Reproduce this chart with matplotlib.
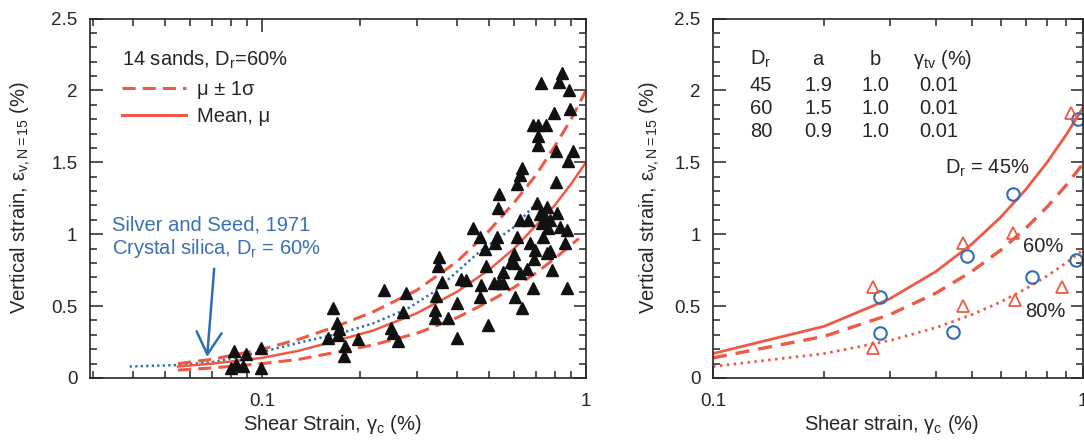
import numpy as np
import matplotlib
matplotlib.use('Agg')
import matplotlib.pyplot as plt
from matplotlib.ticker import FixedLocator, FixedFormatter, LogLocator, NullFormatter, MultipleLocator, FuncFormatter
from matplotlib.lines import Line2D

plt.rcParams['font.family'] = ['Liberation Sans', 'DejaVu Sans']
plt.rcParams['mathtext.fontset'] = 'custom'
plt.rcParams['mathtext.rm'] = 'Liberation Sans'
plt.rcParams['mathtext.it'] = 'Liberation Sans:italic'
plt.rcParams['mathtext.default'] = 'regular'

RED = '#ee5a45'
BLUE = '#2f6db5'
TXTBLUE = '#3b70b5'
INK = '#262626'
FS = 14.5
TFS = 13.5

# ---------------- Left panel data ----------------
tri_x = [0.080, 0.082, 0.083, 0.087, 0.089, 0.099, 0.099,
         0.166, 0.170, 0.173, 0.160, 0.171, 0.180, 0.179, 0.198,
         0.238, 0.278, 0.272, 0.250, 0.253, 0.262,
         0.352, 0.350, 0.358, 0.345, 0.342, 0.342, 0.375, 0.400, 0.400, 0.412, 0.425,
         0.448, 0.471, 0.488, 0.492, 0.475, 0.470, 0.498,
         0.539, 0.535, 0.532, 0.525, 0.520, 0.537, 0.554, 0.554, 0.585, 0.600, 0.600, 0.604, 0.635,
         0.612, 0.626, 0.635, 0.626, 0.612, 0.626, 0.660, 0.658, 0.672, 0.696, 0.686, 0.686,
         0.711, 0.711, 0.711, 0.726, 0.706, 0.720, 0.690,
         0.732, 0.747, 0.758, 0.774, 0.758, 0.785, 0.753, 0.797, 0.737, 0.763, 0.774,
         0.843, 0.825, 0.886, 0.893, 0.808, 0.912, 0.880, 0.808, 0.814, 0.831, 0.874, 0.861, 0.874]
tri_y = [0.07, 0.19, 0.10, 0.08, 0.17, 0.21, 0.07,
         0.49, 0.38, 0.34, 0.28, 0.30, 0.22, 0.15, 0.27,
         0.61, 0.59, 0.46, 0.35, 0.31, 0.26,
         0.84, 0.78, 0.67, 0.57, 0.47, 0.42, 0.42, 0.52, 0.28, 0.69, 0.68,
         1.04, 0.98, 0.90, 0.78, 0.65, 0.56, 0.37,
         1.28, 1.18, 0.98, 0.94, 0.66, 0.66, 0.66, 0.74, 0.81, 0.86, 0.80, 0.56, 0.49,
         0.98, 0.73, 1.46, 1.41, 1.35, 1.10, 1.10, 0.76, 0.94, 0.89, 0.625, 1.76,
         1.76, 1.68, 1.62, 2.05, 1.22, 1.14, 0.83,
         1.08, 1.12, 1.19, 1.10, 0.87, 0.75, 1.76, 1.84, 0.98, 1.04, 0.88,
         2.12, 2.06, 2.00, 1.87, 1.58, 1.58, 1.51, 1.36, 1.15, 1.05, 1.03, 0.94, 0.625]

band_x = [0.055, 0.07, 0.1, 0.13, 0.17, 0.22, 0.3, 0.4, 0.5, 0.6, 0.7, 0.8, 0.9, 1.0]
upper_y = [0.10, 0.13, 0.20, 0.27, 0.36, 0.46, 0.61, 0.81, 1.02, 1.22, 1.41, 1.61, 1.80, 2.00]
mean_y = [0.08, 0.10, 0.14, 0.19, 0.26, 0.33, 0.45, 0.60, 0.75, 0.90, 1.06, 1.20, 1.35, 1.50]
lower_x = [0.055, 0.07, 0.1, 0.13, 0.17, 0.22, 0.3, 0.4, 0.5, 0.6, 0.7, 0.8, 0.95]
lower_y = [0.055, 0.07, 0.10, 0.13, 0.18, 0.23, 0.31, 0.42, 0.53, 0.63, 0.73, 0.83, 0.97]

seed_x = [0.039, 0.055, 0.07, 0.086, 0.108, 0.138, 0.174, 0.22, 0.28, 0.34, 0.40, 0.47, 0.60, 0.706]
seed_y = [0.08, 0.09, 0.11, 0.15, 0.20, 0.26, 0.31, 0.38, 0.48, 0.60, 0.74, 0.88, 1.05, 1.22]

# ---------------- Right panel data ----------------
gamma = [0.1, 0.2, 0.3, 0.4, 0.5, 0.6, 0.7, 0.8, 0.9, 1.0]
eps45 = [0.17, 0.36, 0.55, 0.74, 0.93, 1.12, 1.31, 1.50, 1.69, 1.88]
eps60 = [0.14, 0.29, 0.44, 0.59, 0.74, 0.89, 1.04, 1.19, 1.34, 1.49]
eps80 = [0.08, 0.17, 0.26, 0.35, 0.44, 0.53, 0.62, 0.71, 0.80, 0.89]

circ_x = [0.283, 0.283, 0.446, 0.486, 0.647, 0.728, 0.957, 0.970]
circ_y = [0.56, 0.31, 0.32, 0.85, 1.28, 0.70, 0.82, 1.80]
rtri_x = [0.270, 0.270, 0.474, 0.474, 0.647, 0.654, 0.877, 0.930]
rtri_y = [0.63, 0.21, 0.94, 0.50, 1.01, 0.54, 0.63, 1.84]

table_header = ['D$_{r}$', 'a', 'b', '\u03b3$_{tv}$ (%)']
table_rows = [['45', '1.9', '1.0', '0.01'],
              ['60', '1.5', '1.0', '0.01'],
              ['80', '0.9', '1.0', '0.01']]

xtick_vals = [0.1, 1]
xtick_labels = ['0.1', '1']

W, H = 1084, 441
fig = plt.figure(figsize=(W / 100, H / 100), dpi=100)


def px_axes(x0, x1, ytop, ybot):
    return fig.add_axes([x0 / W, (H - ybot) / H, (x1 - x0) / W, (ybot - ytop) / H])


def style_axes(ax):
    ax.set_xscale('log')
    ax.xaxis.set_major_locator(FixedLocator(xtick_vals))
    ax.xaxis.set_major_formatter(FixedFormatter(xtick_labels))
    ax.xaxis.set_minor_locator(LogLocator(base=10, subs=np.arange(2, 10)))
    ax.xaxis.set_minor_formatter(NullFormatter())
    ax.set_ylim(0, 2.5)
    ax.yaxis.set_major_locator(MultipleLocator(0.5))
    ax.yaxis.set_minor_locator(MultipleLocator(0.1))
    ax.yaxis.set_major_formatter(FuncFormatter(lambda v, p: f'{v:g}'))
    ax.tick_params(which='both', direction='in', top=True, right=True,
                   color=INK, labelcolor=INK, labelsize=TFS, width=1.1)
    ax.tick_params(which='major', length=9)
    ax.tick_params(which='minor', length=5)
    ax.tick_params(axis='x', which='both', pad=11)
    ax.tick_params(axis='y', which='both', pad=9)
    for s in ax.spines.values():
        s.set_linewidth(1.2)
        s.set_color(INK)


# ---------------- Left panel ----------------
axL = px_axes(90, 586, 18.5, 378)
style_axes(axL)
axL.set_xlim(0.0294, 1.0)

axL.plot(seed_x, seed_y, color=BLUE, lw=1.8, dashes=(0.9, 1.3))
axL.plot(band_x, upper_y, color=RED, lw=2.2, dashes=(4.3, 2.3))
axL.plot(lower_x, lower_y, color=RED, lw=2.2, dashes=(4.3, 2.3))
axL.plot(band_x, mean_y, color=RED, lw=1.8)
axL.plot(tri_x, tri_y, ls='none', marker='^', ms=8, color='#111111', mec='#111111')

h_dash = Line2D([], [], color=RED, lw=2.2, dashes=(4.3, 2.3))
h_solid = Line2D([], [], color=RED, lw=2.2)
leg = axL.legend([h_dash, h_solid], ['\u03bc \u00b1 1\u03c3', 'Mean, \u03bc'],
                 title='14 sands, D$_{r}$=60%', loc='upper left',
                 bbox_to_anchor=(0.064, 0.915), frameon=False, fontsize=FS,
                 title_fontsize=FS, handlelength=3.2, handletextpad=0.55,
                 labelspacing=0.42, borderpad=0, borderaxespad=0, alignment='left')
for t in leg.get_texts():
    t.set_color(INK)
leg.get_title().set_color(INK)

axL.text(0.0444, 0.410, 'Silver and Seed, 1971', transform=axL.transAxes,
         color=TXTBLUE, fontsize=FS, va='baseline', ha='left')
axL.text(0.0444, 0.345, 'Crystal silica, D$_{r}$ = 60%', transform=axL.transAxes,
         color=TXTBLUE, fontsize=FS, va='baseline', ha='left')
axL.annotate('', xy=(0.0676, 0.146), xytext=(0.0711, 0.76),
             arrowprops=dict(arrowstyle='->,head_length=0.8,head_width=0.45',
                             color=BLUE, lw=1.8, mutation_scale=20, shrinkA=0, shrinkB=0))

axL.set_xlabel('Shear Strain, \u03b3$_{c}$ (%)', fontsize=FS, color=INK)
axL.set_ylabel('Vertical strain, \u03b5$_{v,N=15}$ (%)', fontsize=FS, color=INK)
axL.xaxis.label.set_va('center')
axL.xaxis.set_label_coords((332 - 90) / 496, (378 - 425) / 359.5)
axL.yaxis.label.set_va('center')
axL.yaxis.set_label_coords((21 - 90) / 496, 0.5)

# ---------------- Right panel ----------------
axR = px_axes(713, 1083, 18.5, 378)
style_axes(axR)
axR.set_xlim(0.1, 1.0)

axR.plot(gamma, eps80, color=RED, lw=2.0, dashes=(0.9, 1.6))
axR.plot(gamma, eps60, color=RED, lw=2.4, dashes=(4.2, 2.7))
axR.plot(gamma, eps45, color=RED, lw=2.0)
axR.plot(circ_x, circ_y, ls='none', marker='o', ms=9, mfc='none', mec=BLUE, mew=1.5)
axR.plot(rtri_x, rtri_y, ls='none', marker='^', ms=9, mfc='none', mec=RED, mew=1.3)

col_x = [0.100, 0.284, 0.438, 0.611]
col_ha = ['left', 'center', 'center', 'center']
axR.text(0.100, 0.871, table_header[0], transform=axR.transAxes, fontsize=FS,
         color=INK, va='baseline', ha='left')
axR.text(0.284, 0.871, table_header[1], transform=axR.transAxes, fontsize=FS,
         color=INK, va='baseline', ha='center')
axR.text(0.440, 0.871, table_header[2], transform=axR.transAxes, fontsize=FS,
         color=INK, va='baseline', ha='center')
axR.text(0.541, 0.871, table_header[3], transform=axR.transAxes, fontsize=FS,
         color=INK, va='baseline', ha='left')
row_y = [0.798, 0.734, 0.670]
for ry, row in zip(row_y, table_rows):
    for cx, ha, val in zip(col_x, col_ha, row):
        axR.text(cx, ry, val, transform=axR.transAxes, fontsize=FS, color=INK,
                 va='baseline', ha=ha)

axR.text(0.627, 0.569, 'D$_{r}$ = 45%', transform=axR.transAxes, fontsize=FS,
         color=INK, va='baseline', ha='left')
axR.text(0.838, 0.351, '60%', transform=axR.transAxes, fontsize=FS,
         color=INK, va='baseline', ha='left')
axR.text(0.843, 0.171, '80%', transform=axR.transAxes, fontsize=FS,
         color=INK, va='baseline', ha='left')

axR.set_xlabel('Shear strain, \u03b3$_{c}$ (%)', fontsize=FS, color=INK)
axR.set_ylabel('Vertical strain, \u03b5$_{v,N=15}$ (%)', fontsize=FS, color=INK)
axR.xaxis.label.set_va('center')
axR.xaxis.set_label_coords((892 - 713) / 370, (378 - 425) / 359.5)
axR.yaxis.label.set_va('center')
axR.yaxis.set_label_coords((650 - 713) / 370, 0.5)

fig.savefig('out.png', dpi=100)
